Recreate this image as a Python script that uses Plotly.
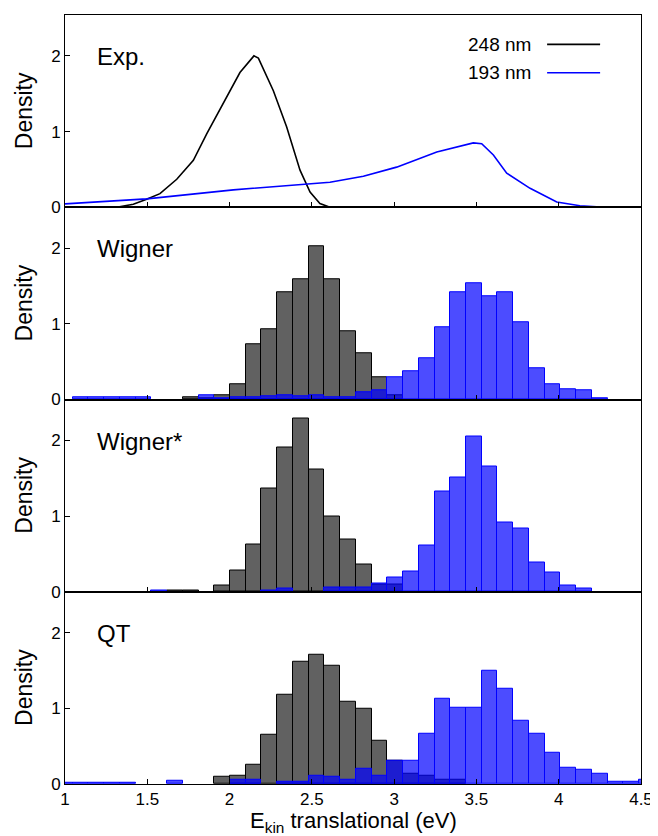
import plotly.graph_objects as go
from plotly.subplots import make_subplots

# ---------------- data ----------------
# common histogram grid (left edge of first bin, bin width in eV)
BIN_LEFT0 = 0.951
BIN_WIDTH = 0.0956
N_BINS = 38

# Experimental curves
exp248_x = [1.314, 1.415, 1.496, 1.577, 1.679, 1.780, 1.861, 1.982, 2.063, 2.148, 2.175,
            2.266, 2.347, 2.428, 2.489, 2.549, 2.610]
exp248_y = [0.0, 0.04, 0.105, 0.18, 0.37, 0.62, 0.97, 1.46, 1.78, 2.0, 1.97,
            1.54, 1.06, 0.49, 0.20, 0.05, 0.0]
exp193_x = [1.0, 1.496, 2.023, 2.469, 2.610, 2.813, 3.015, 3.259, 3.481, 3.532, 3.603,
            3.684, 3.826, 3.988, 4.129, 4.281]
exp193_y = [0.045, 0.11, 0.23, 0.30, 0.33, 0.41, 0.53, 0.73, 0.85, 0.84, 0.69,
            0.45, 0.25, 0.07, 0.02, 0.0]

# Histogram densities on the common grid (38 bins)
wigner_248 = [0, 0, 0, 0, 0, 0, 0, 0, 0.03, 0.02, 0.05, 0.20, 0.73, 0.93, 1.42, 1.59, 2.03,
              1.59, 0.90, 0.61, 0.30, 0.05, 0, 0, 0, 0, 0, 0, 0, 0, 0, 0, 0, 0, 0, 0, 0, 0]
wigner_193 = [0, 0.025, 0.03, 0.025, 0.025, 0.035, 0, 0, 0, 0.05, 0.02, 0.03, 0.03, 0.04,
              0.05, 0.04, 0.05, 0.03, 0.03, 0.10, 0.12, 0.30, 0.37, 0.54, 0.96, 1.42, 1.54,
              1.37, 1.42, 1.02, 0.41, 0.20, 0.14, 0.12, 0.02, 0, 0, 0]
wignerstar_248 = [0, 0, 0, 0, 0, 0, 0, 0.02, 0.02, 0, 0.08, 0.28, 0.62, 1.36, 1.90, 2.29,
                  1.62, 1.00, 0.69, 0.36, 0.10, 0.10, 0, 0, 0, 0, 0, 0, 0, 0, 0, 0, 0, 0,
                  0, 0, 0, 0]
wignerstar_193 = [0, 0, 0, 0, 0, 0, 0.02, 0, 0, 0, 0, 0, 0, 0.02, 0.04, 0, 0, 0.05, 0.05,
                  0.05, 0.11, 0.19, 0.27, 0.61, 1.32, 1.51, 2.05, 1.66, 0.91, 0.83, 0.38,
                  0.25, 0.08, 0.04, 0, 0, 0, 0]
qt_248 = [0, 0, 0, 0, 0, 0, 0, 0, 0, 0, 0.09, 0.11, 0.26, 0.65, 1.18, 1.61, 1.71, 1.56,
          1.09, 1.00, 0.57, 0.31, 0.14, 0.11, 0.05, 0.05, 0, 0, 0, 0, 0, 0, 0, 0, 0, 0, 0, 0]
qt_193 = [0.02, 0.02, 0.02, 0.02, 0.02, 0, 0, 0.045, 0, 0, 0, 0.06, 0.05, 0, 0.03, 0.03,
          0.11, 0.10, 0.06, 0.20, 0.11, 0.31, 0.31, 0.67, 1.12, 1.01, 1.01, 1.49, 1.26,
          0.84, 0.66, 0.41, 0.22, 0.19, 0.14, 0.03, 0.03, 0.06]

panel_labels = ["Exp.", "Wigner", "Wigner*", "QT"]
legend_labels = ["248 nm", "193 nm"]
x_tickvals = [1, 1.5, 2, 2.5, 3, 3.5, 4, 4.5]
x_ticktext = ["1", "1.5", "2", "2.5", "3", "3.5", "4", "4.5"]
y_tickvals = [0, 1, 2]
x_title = "E<sub>kin</sub> translational (eV)"
y_title = "Density"

# ---------------- styles ----------------
FONT = "Liberation Sans, Arial, Helvetica, sans-serif"
BLACK_LINE = "#000000"
BLUE_LINE = "#0000ff"
GRAY_FILL = "rgba(0,0,0,0.62)"
BLUE_FILL = "rgba(0,0,255,0.70)"

centers = [BIN_LEFT0 + (k + 0.5) * BIN_WIDTH for k in range(N_BINS)]


def nz(vals):
    return [v if v else None for v in vals]


fig = make_subplots(rows=4, cols=1, shared_xaxes=True, vertical_spacing=0)

# Panel 1: experimental curves
fig.add_trace(go.Scatter(x=exp248_x, y=exp248_y, mode="lines",
                         line=dict(color=BLACK_LINE, width=1.6), showlegend=False), row=1, col=1)
fig.add_trace(go.Scatter(x=exp193_x, y=exp193_y, mode="lines",
                         line=dict(color=BLUE_LINE, width=1.6), showlegend=False), row=1, col=1)

for r, (g, b) in enumerate([(wigner_248, wigner_193),
                            (wignerstar_248, wignerstar_193),
                            (qt_248, qt_193)], start=2):
    fig.add_trace(go.Bar(x=centers, y=nz(g), width=BIN_WIDTH,
                         marker=dict(color=GRAY_FILL, line=dict(color="#000000", width=1)),
                         showlegend=False), row=r, col=1)
    fig.add_trace(go.Bar(x=centers, y=nz(b), width=BIN_WIDTH,
                         marker=dict(color=BLUE_FILL, line=dict(color=BLUE_LINE, width=1)),
                         showlegend=False), row=r, col=1)

fig.update_xaxes(range=[1, 4.5], tickvals=x_tickvals, ticktext=x_ticktext,
                 ticks="inside", ticklen=5, tickcolor="#000", tickwidth=1,
                 showline=True, linecolor="#000", linewidth=1, mirror=True,
                 showgrid=False, zeroline=False, automargin=False,
                 tickfont=dict(family=FONT, size=17, color="#000"))
fig.update_yaxes(range=[0, 2.54], tickvals=y_tickvals,
                 ticks="inside", ticklen=5, tickcolor="#000", tickwidth=1,
                 showline=True, linecolor="#000", linewidth=1, mirror=True,
                 showgrid=False, zeroline=False, automargin=False,
                 tickfont=dict(family=FONT, size=17, color="#000"))

annotations = []
axis_names = ["", "2", "3", "4"]
for i, name in enumerate(axis_names):
    annotations.append(dict(text=panel_labels[i], xref=f"x{name} domain", yref=f"y{name}",
                            x=0.052, y=1.99, xanchor="left", yanchor="middle",
                            showarrow=False, font=dict(family=FONT, size=24, color="#000")))
    annotations.append(dict(text=y_title, xref="paper", yref=f"y{name} domain",
                            x=-0.071, y=0.5, xanchor="center", yanchor="middle",
                            textangle=-90, showarrow=False,
                            font=dict(family=FONT, size=23, color="#000")))

annotations.append(dict(text=x_title, xref="paper", yref="paper", x=0.5, y=-0.050,
                        xanchor="center", yanchor="middle", showarrow=False,
                        font=dict(family=FONT, size=22, color="#000")))

# legend in panel 1 (text left of line sample)
leg_rows = [0.847, 0.700]
leg_colors = [BLACK_LINE, BLUE_LINE]
shapes = []
for lbl, yy, c in zip(legend_labels, leg_rows, leg_colors):
    annotations.append(dict(text=lbl, xref="x domain", yref="y domain", x=0.8125, y=yy,
                            xanchor="right", yanchor="middle", showarrow=False,
                            font=dict(family=FONT, size=19, color="#000")))
    shapes.append(dict(type="line", xref="x domain", yref="y domain",
                       x0=0.837, x1=0.929, y0=yy, y1=yy,
                       line=dict(color=c, width=1.6)))

# page body has an 8 px margin, so the figure is sized/offset to compensate
fig.update_layout(width=650, height=828, barmode="overlay", bargap=0,
                  margin=dict(l=57, r=17, t=7, b=52, autoexpand=False),
                  paper_bgcolor="white", plot_bgcolor="white",
                  annotations=annotations, shapes=shapes, showlegend=False,
                  font=dict(family=FONT, color="#000"))

fig.write_html("out.html")
